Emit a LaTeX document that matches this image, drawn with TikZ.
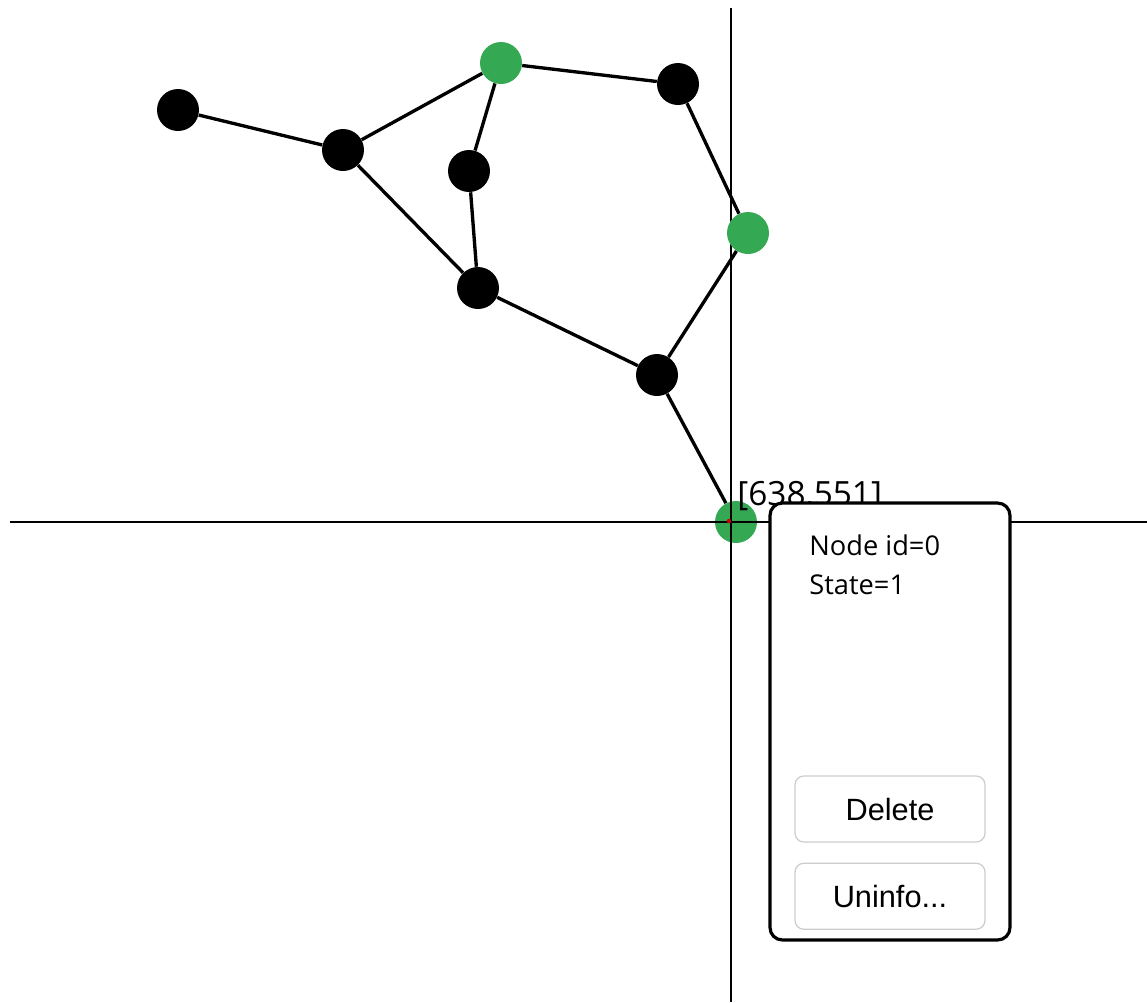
\documentclass[tikz,border=0pt]{standalone}
\usepackage{fontspec}
\setmainfont{Liberation Sans}
\newfontfamily\uifont{Open Sans}
\usepackage{xcolor}
\usetikzlibrary{positioning}
\definecolor{selgreen}{RGB}{52,168,83}
\definecolor{btnline}{RGB}{205,205,205}
\tikzset{
  vtx/.style   = {circle, fill=black, inner sep=0pt, minimum size=8.4mm},
  sel/.style   = {vtx, fill=selgreen},
  link/.style  = {line width=1.9pt},
  axis/.style  = {line width=1.5pt},
  panel/.style = {draw, line width=1.8pt, rounded corners=7pt, fill=white,
                  minimum width=4.8cm, minimum height=8.74cm},
  btn/.style   = {draw=btnline, line width=0.7pt, rounded corners=5pt, fill=white,
                  minimum width=3.8cm, minimum height=1.32cm,
                  font=\fontsize{17.5}{20}\selectfont},
  info/.style  = {font=\uifont\fontsize{15.5}{22.7}\selectfont, align=left,
                  inner sep=0pt},
  coordlbl/.style = {font=\uifont\fontsize{19}{22}\selectfont, inner sep=0pt},
}

\begin{document}
\begin{tikzpicture}[x=0.02cm, y=-0.02cm]
  \useasboundingbox (0,0) rectangle (1147,1002);

  % origin vertex sits under the crosshair
  \node[sel] (n0) at (736,522) {};

  \coordinate (top)    at (731,8);
  \coordinate (bottom) at (731,1002);
  \coordinate (left)   at (10,522);
  \coordinate (right)  at (1147,522);
  \draw[axis] (top) -- (bottom);
  \draw[axis] (left) -- (right);
  \fill[red!80!black] (729,521) circle (2.2);

  \node[vtx] (n1) at (178,110) {};
  \node[vtx] (n2) at (343,150) {};
  \node[sel] (n3) at (501,63)  {};
  \node[vtx] (n4) at (469,171) {};
  \node[vtx] (n5) at (678,84)  {};
  \node[sel] (n6) at (748,233) {};
  \node[vtx] (n7) at (478,288) {};
  \node[vtx] (n8) at (657,375) {};

  \draw[link] (n1) -- (n2);
  \draw[link] (n2) -- (n3);
  \draw[link] (n3) -- (n4);
  \draw[link] (n3) -- (n5);
  \draw[link] (n5) -- (n6);
  \draw[link] (n2) -- (n7);
  \draw[link] (n4) -- (n7);
  \draw[link] (n7) -- (n8);
  \draw[link] (n6) -- (n8);
  \draw[link] (n8) -- (n0);

  \node[coordlbl, anchor=base west] (coord) at (737,505) {[638,551]};

  % context menu
  \node[panel] (menu) at (890,721.5) {};
  \node[info, anchor=north west] (details) at (809,534) {Node id=0\\State=1};
  \node[btn] (del) at (890,809) {Delete};
  \node[btn, below=0.4cm of del] (uninf) {Uninfo...};
\end{tikzpicture}
\end{document}
